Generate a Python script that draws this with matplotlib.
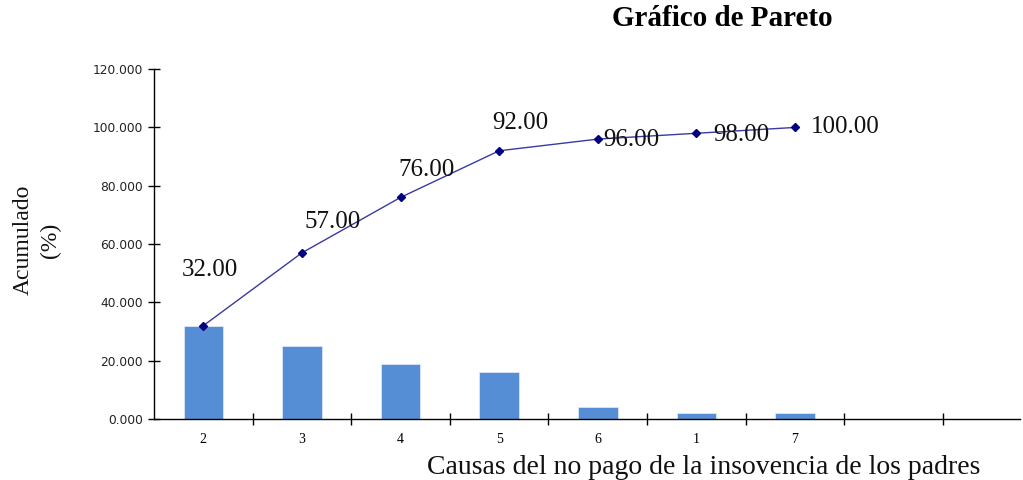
import numpy as np
import matplotlib
matplotlib.use("Agg")
import matplotlib.pyplot as plt
from matplotlib.ticker import FormatStrFormatter

causas = ["2", "3", "4", "5", "6", "1", "7"]
frecuencia = [32, 25, 19, 16, 4, 2, 2]
acumulado = [32.00, 57.00, 76.00, 92.00, 96.00, 98.00, 100.00]
n_slots = 9

# label offsets in points (dx, dy), per point
offsets = [(5, 40), (22, 22), (19, 20), (15, 20), (24, -1), (32, -1), (36, 0)]

fig = plt.figure(figsize=(10.23, 4.8), dpi=100)
ax = fig.add_axes([0.1505, 0.127, 0.8465, 0.729])

x = np.arange(len(causas))
ax.bar(x, frecuencia, 0.4, color="#558ed5", edgecolor="#dbe6f5", linewidth=0.6, zorder=2)
ax.plot(x, acumulado, "-", color="#3a3aa0", lw=1.0, zorder=3)
ax.plot(x, acumulado, "D", color="#000080", ms=4.5, zorder=4, linestyle="none")

for i, v in enumerate(acumulado):
    dx, dy = offsets[i]
    ax.annotate(f"{v:.2f}", (x[i], v), xytext=(dx, dy), textcoords="offset points",
                ha="center", va="center", fontsize=18, family="Liberation Serif",
                color="#111111", zorder=5)

ax.set_xlim(-0.5, 8.28)
ax.set_ylim(0, 120)
ax.set_yticks(np.arange(0, 121, 20))
ax.yaxis.set_major_formatter(FormatStrFormatter("%.3f"))
ax.set_xticks(x)
ax.set_xticklabels(causas, family="Liberation Serif", fontsize=10)
ax.set_xticks(np.arange(0.5, n_slots - 0.5, 1.0), minor=True)
ax.tick_params(axis="x", which="major", length=0, pad=10)
ax.tick_params(axis="x", which="minor", direction="inout", length=8, width=1)
ax.tick_params(axis="y", direction="inout", length=8, width=1, labelsize=8.8, pad=4,
               labelcolor="#222222")
for lab in ax.get_yticklabels():
    lab.set_family("DejaVu Sans")

for s in ["top", "right"]:
    ax.spines[s].set_visible(False)
ax.spines["left"].set_linewidth(1.0)
ax.spines["bottom"].set_linewidth(1.0)

fig.text(0.706, 0.962, "Gráfico de Pareto", ha="center", va="center",
         fontsize=21, fontweight="bold", family="Liberation Serif")
fig.text(0.688, 0.027, "Causas del no pago de la insovencia de los padres",
         ha="center", va="center", fontsize=20, family="Liberation Serif", color="#111111")
fig.text(0.036, 0.5, "Acumulado\n(%)", ha="center", va="center", rotation=90,
         fontsize=17, family="Liberation Serif", linespacing=1.4, color="#111111")

fig.savefig("out.png", dpi=100)
